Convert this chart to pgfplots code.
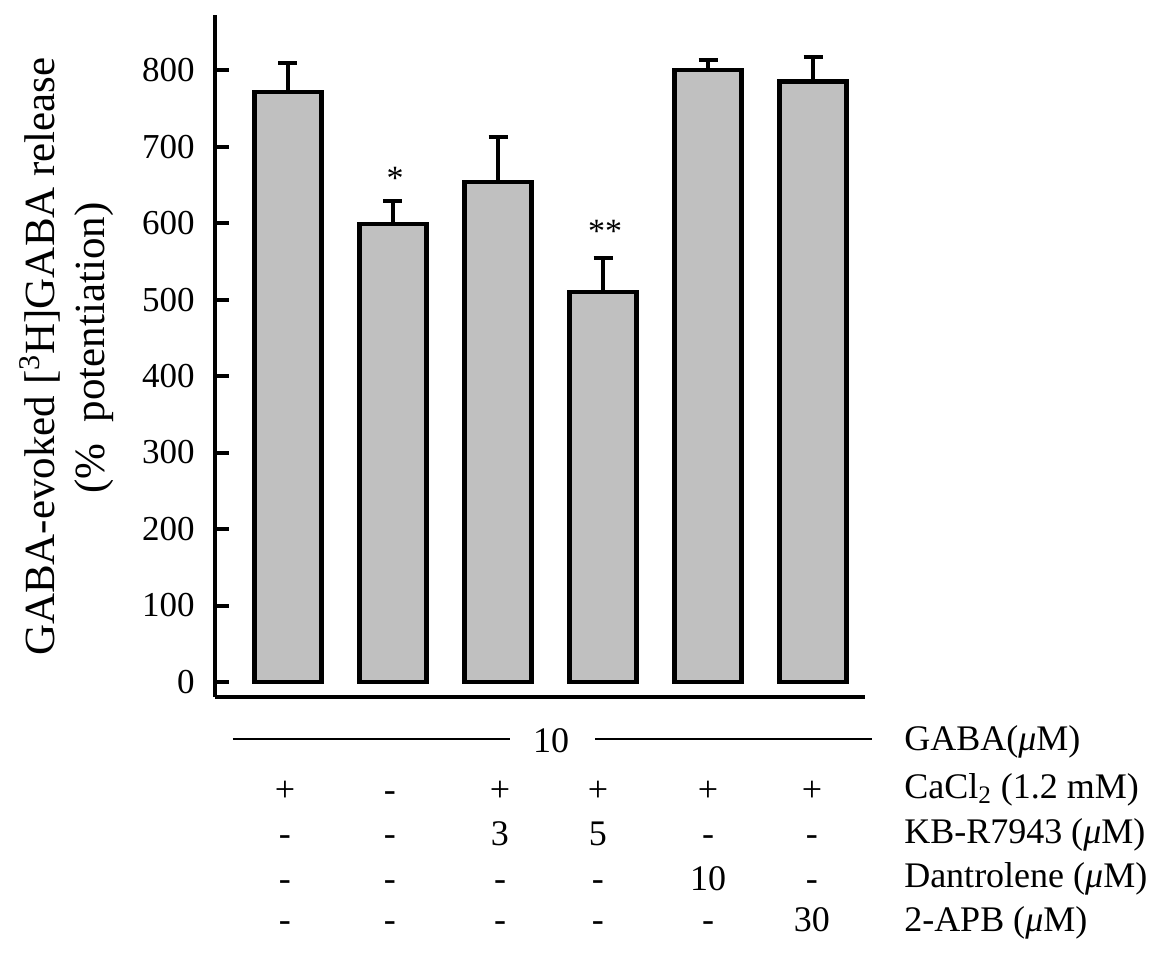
\documentclass[border=0pt]{standalone}
\usepackage{fontspec}
\setmainfont{Liberation Serif}
\usepackage{pgfplots}
\pgfplotsset{compat=1.18}
\definecolor{bargray}{RGB}{192,192,192}
\tikzset{rowtxt/.style={font=\fontsize{18}{22}\selectfont, text height=13pt, text depth=4pt, inner sep=0pt}}
\begin{document}
\begin{tikzpicture}
\begin{axis}[
  scale only axis, width=325pt, height=341pt,
  xmin=-0.695, xmax=5.495, ymin=-19.6, ymax=872,
  axis lines*=left,
  axis line style={line width=2pt},
  xtick=\empty,
  ytick={0,100,...,800},
  tick align=inside,
  major tick length=7pt,
  tick style={line width=2pt, black},
  yticklabel style={font=\fontsize{17.5}{21}\selectfont, anchor=east, inner sep=0pt, xshift=-10pt},
  /pgf/number format/assume math mode=true,
  clip=false,
  ybar, bar width=0.64,
]
\addplot[fill=bargray, draw=black, line width=2.2pt,
  error bars/.cd, y dir=plus, y explicit,
  error bar style={line width=2pt},
  error mark options={rotate=90, mark size=4.75pt, line width=2pt}]
  coordinates {(0,771) +- (0,38) (1,599) +- (0,30) (2,654) +- (0,58) (3,510) +- (0,44) (4,800) +- (0,13) (5,785) +- (0,32)};

\node[font=\fontsize{17}{20}\selectfont] at (axis cs:1.02,659) {*};
\node[font=\fontsize{17}{20}\selectfont] at (axis cs:3.02,589) {**};

% y label
\node[rotate=90, anchor=base, font=\fontsize{21.5}{26}\selectfont] at (axis cs:-2.219,425.5) {GABA-evoked [\textsuperscript{3}H]GABA release};
\node[rotate=90, anchor=base, font=\fontsize{21.5}{26}\selectfont] at (axis cs:-1.743,436.6) {(\%\ \ potentiation)};

% GABA row
\draw[line width=1.3pt] (axis cs:-0.524,-74.5) -- (axis cs:2.114,-74.5);
\node[rowtxt] at (axis cs:2.505,-80) {10};
\draw[line width=1.3pt] (axis cs:2.924,-74.5) -- (axis cs:5.562,-74.5);
\node[rowtxt, anchor=west] at (axis cs:5.865,-78) {GABA(\textit{μ}M)};

% CaCl2 row
\node[rowtxt] at (axis cs:-0.029,-143.8) {+};
\node[rowtxt] at (axis cs:0.971,-143.8) {-};
\node[rowtxt] at (axis cs:2.019,-143.8) {+};
\node[rowtxt] at (axis cs:2.952,-143.8) {+};
\node[rowtxt] at (axis cs:4.0,-143.8) {+};
\node[rowtxt] at (axis cs:4.99,-143.8) {+};
\node[rowtxt, anchor=west] at (axis cs:5.865,-140) {CaCl\textsubscript{2} (1.2 mM)};

% KB row
\node[rowtxt] at (axis cs:-0.029,-202) {-};
\node[rowtxt] at (axis cs:0.971,-202) {-};
\node[rowtxt] at (axis cs:2.019,-202) {3};
\node[rowtxt] at (axis cs:2.952,-202) {5};
\node[rowtxt] at (axis cs:4.0,-202) {-};
\node[rowtxt] at (axis cs:4.99,-202) {-};
\node[rowtxt, anchor=west] at (axis cs:5.865,-199) {KB-R7943 (\textit{μ}M)};

% Dantrolene row
\node[rowtxt] at (axis cs:-0.029,-261) {-};
\node[rowtxt] at (axis cs:0.971,-261) {-};
\node[rowtxt] at (axis cs:2.019,-261) {-};
\node[rowtxt] at (axis cs:2.952,-261) {-};
\node[rowtxt] at (axis cs:4.0,-261) {10};
\node[rowtxt] at (axis cs:4.99,-261) {-};
\node[rowtxt, anchor=west] at (axis cs:5.865,-257) {Dantrolene (\textit{μ}M)};

% 2-APB row
\node[rowtxt] at (axis cs:-0.029,-314) {-};
\node[rowtxt] at (axis cs:0.971,-314) {-};
\node[rowtxt] at (axis cs:2.019,-314) {-};
\node[rowtxt] at (axis cs:2.952,-314) {-};
\node[rowtxt] at (axis cs:4.0,-314) {-};
\node[rowtxt] at (axis cs:4.99,-314) {30};
\node[rowtxt, anchor=west] at (axis cs:5.865,-314) {2-APB (\textit{μ}M)};
\end{axis}
\path (-107.5pt,-129.5pt) rectangle (472pt,348.5pt);
\end{tikzpicture}
\end{document}
